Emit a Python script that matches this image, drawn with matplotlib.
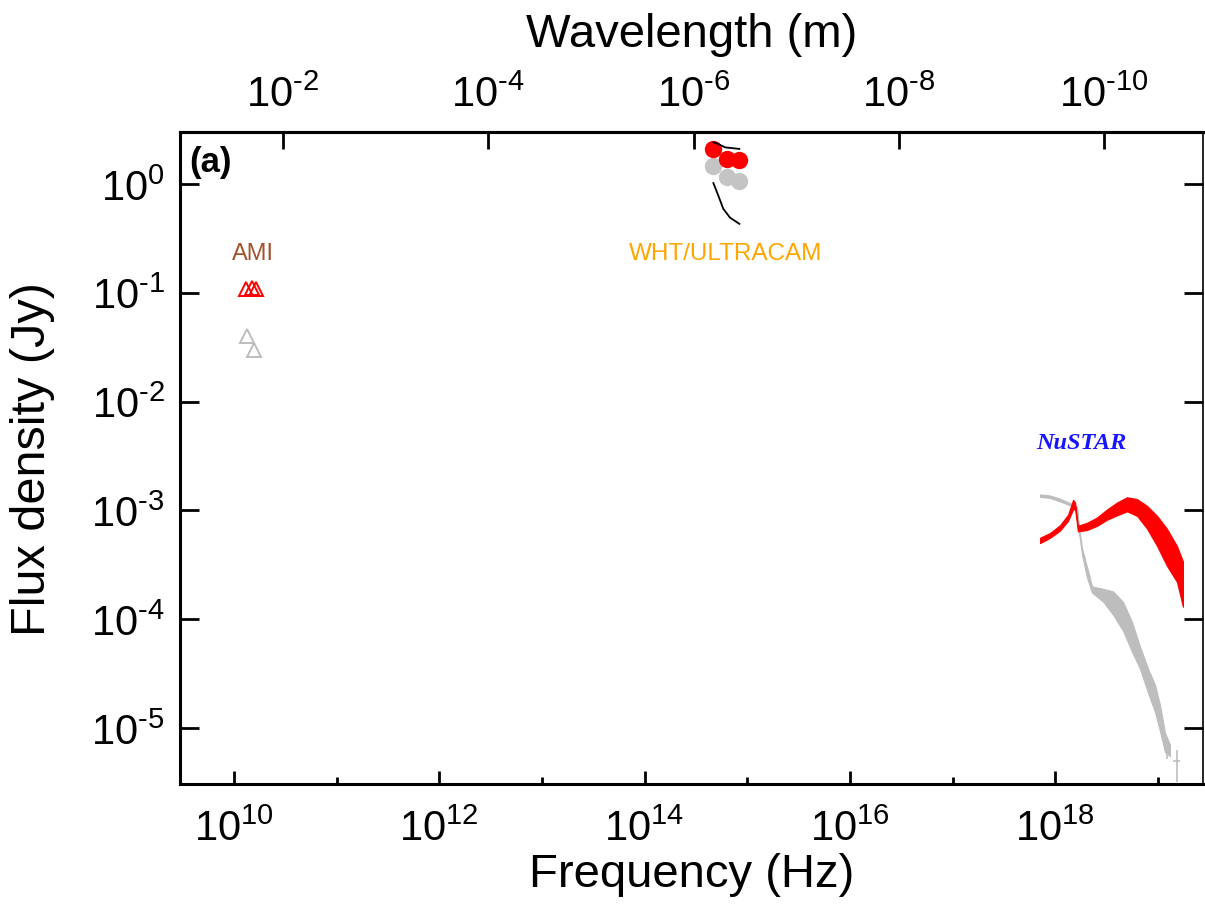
import numpy as np
import matplotlib
matplotlib.use("Agg")
import matplotlib.pyplot as plt
from matplotlib.ticker import FixedLocator, NullLocator, NullFormatter, FuncFormatter

police = 'Liberation Sans'
plt.rcParams['font.family'] = [police, 'DejaVu Sans']
plt.rcParams['mathtext.fontset'] = 'custom'
plt.rcParams['mathtext.rm'] = police
plt.rcParams['mathtext.it'] = police + ':italic'
plt.rcParams['mathtext.bf'] = police + ':bold'

C = 2.998e8

############################## DONNEES ##############################
# AMI (radio)
ami_nu_on = [1.32e10, 1.49e10, 1.65e10]
ami_f_on = [0.108, 0.110, 0.108]
ami_nu_off = [1.34e10, 1.58e10]
ami_f_off = [0.040, 0.030]

# WHT/ULTRACAM (optique)
wht_nu = [4.68e14, 6.31e14, 8.38e14]
wht_f_on = [2.10, 1.70, 1.67]
wht_f_off = [1.47, 1.15, 1.07]
modele1_nu = [4.68e14, 5.23e14, 6.08e14, 8.38e14]
modele1_f = [2.42, 2.33, 2.17, 2.10]
modele2_nu = [4.68e14, 5.23e14, 5.85e14, 6.8e14, 8.38e14]
modele2_f = [1.02, 0.78, 0.59, 0.49, 0.43]

# NuSTAR (X) : enveloppes
nu_rouge = [7.1e17, 8.9e17, 1.11e18, 1.33e18, 1.49e18, 1.56e18, 1.66e18, 2.04e18,
            2.55e18, 3.19e18, 3.99e18, 4.99e18, 6.25e18, 7.82e18, 9.8e18,
            1.22e19, 1.53e19, 1.75e19]
haut_rouge = [5.6e-4, 6.2e-4, 7.3e-4, 9.1e-4, 1.25e-3, 1.18e-3, 7.2e-4, 7.7e-4,
              8.6e-4, 1.02e-3, 1.18e-3, 1.32e-3, 1.27e-3, 1.1e-3, 8.9e-4,
              6.8e-4, 4.7e-4, 3.4e-4]
bas_rouge = [5.0e-4, 5.6e-4, 6.5e-4, 8.0e-4, 1.02e-3, 1.02e-3, 6.4e-4, 6.6e-4,
             7.2e-4, 8.2e-4, 9.0e-4, 9.8e-4, 8.9e-4, 6.8e-4, 4.7e-4,
             3.1e-4, 2.2e-4, 1.3e-4]

nu_gris = [7.1e17, 8.9e17, 1.11e18, 1.33e18, 1.49e18, 1.62e18, 1.72e18, 1.82e18,
           2.04e18, 2.28e18, 2.92e18, 3.65e18, 4.57e18, 5.59e18, 6.68e18,
           8.0e18, 9.35e18, 1.05e19, 1.17e19, 1.31e19]
haut_gris = [1.40e-3, 1.37e-3, 1.28e-3, 1.19e-3, 1.14e-3, 1.08e-3, 6.5e-4, 4.5e-4,
             3.0e-4, 2.0e-4, 1.9e-4, 1.8e-4, 1.44e-4, 9.4e-5, 5.6e-5,
             3.5e-5, 2.5e-5, 1.6e-5, 9e-6, 7e-6]
bas_gris = [1.33e-3, 1.30e-3, 1.21e-3, 1.13e-3, 1.08e-3, 1.02e-3, 5.8e-4, 3.9e-4,
            2.4e-4, 1.75e-4, 1.45e-4, 1.1e-4, 7.8e-5, 5.0e-5, 3.5e-5,
            2.1e-5, 1.4e-5, 9.2e-6, 6e-6, 5.5e-6]
# derniers points avec barres d'erreur
err_nu = [1.22e19, 1.53e19]
err_f = [6.4e-6, 5.0e-6]
err_fy = [[1.2e-6, 1.8e-6], [1.8e-6, 1.3e-6]]
err_nux = [[0.08e19, 0.13e19], [0.12e19, 0.12e19]]

############################## FIGURE ##############################
fig = plt.figure(figsize=(12.05, 9.12), dpi=100)
ax = fig.add_axes([0.1494, 0.1393, 0.8489, 0.7149])
ax.set_xscale('log')
ax.set_yscale('log')

gris = '#bdbdbd'
rouge = '#ff0000'

ax.plot(ami_nu_off, ami_f_off, '^', ms=10.5, mfc='none', mec=gris, mew=1.4)
ax.plot(ami_nu_on, ami_f_on, '^', ms=10.5, mfc='none', mec=rouge, mew=1.4)

ax.plot(wht_nu, wht_f_off, 'o', ms=12.5, color='#c4c4c4', mec='none')
ax.plot(wht_nu, wht_f_on, 'o', ms=12.5, color=rouge, mec='none')
ax.plot(modele1_nu, modele1_f, '-', color='black', lw=1.3)
ax.plot(modele2_nu, modele2_f, '-', color='black', lw=1.3)

ax.fill_between(nu_gris, bas_gris, haut_gris, color=gris, lw=0.8, ec=gris)
ax.errorbar(err_nu, err_f, yerr=np.array(err_fy).T, xerr=np.array(err_nux).T,
            fmt='none', ecolor=gris, elinewidth=1.2)
ax.fill_between(nu_rouge, bas_rouge, haut_rouge, color=rouge, lw=0.8, ec=rouge)

ax.text(1.54e10, 0.232, 'AMI', color='#a0522d', fontsize=17,
        ha='center', va='center')
ax.text(6.1e14, 0.232, 'WHT/ULTRACAM', color='#ffa500', fontsize=17.5,
        ha='center', va='center')
ax.text(1.78e18, 4.2e-3, 'NuSTAR', color='#1515ff', fontsize=17.5, family='Liberation Serif',
        style='italic', weight='bold', ha='center', va='center')
ax.text(0.009, 0.98, '(a)', transform=ax.transAxes, fontsize=25, weight='bold',
        ha='left', va='top')

ax.set_xlim(10**9.476, 10**19.438)
ax.set_ylim(10**-5.515, 10**0.478)

fmt = FuncFormatter(lambda v, p: r'$\mathregular{10^{%s}}$'
                    % str(int(round(np.log10(v)))).replace('-', r'\text{-}'))
ax.xaxis.set_major_locator(FixedLocator([1e10, 1e12, 1e14, 1e16, 1e18]))
ax.xaxis.set_minor_locator(FixedLocator([1e11, 1e13, 1e15, 1e17, 1e19]))
ax.xaxis.set_major_formatter(fmt)
ax.xaxis.set_minor_formatter(NullFormatter())
ax.yaxis.set_major_locator(FixedLocator([1e0, 1e-1, 1e-2, 1e-3, 1e-4, 1e-5]))
ax.yaxis.set_minor_locator(NullLocator())
ax.yaxis.set_major_formatter(fmt)

ax.tick_params(axis='x', which='major', direction='in', length=9.5, width=2,
               labelsize=30, pad=18, top=False)
ax.tick_params(axis='x', which='minor', direction='in', length=5, width=2, top=False)
ax.tick_params(axis='y', which='major', direction='in', length=14, width=2,
               labelsize=30, pad=11, right=True)
for s in ax.spines.values():
    s.set_linewidth(2.2)
ax.spines['right'].set_linewidth(1.2)

sec = ax.secondary_xaxis('top', functions=(lambda nu: C / nu, lambda lam: C / lam))
sec.set_xticks([1e-2, 1e-4, 1e-6, 1e-8, 1e-10])
sec.xaxis.set_minor_locator(NullLocator())
sec.xaxis.set_major_formatter(fmt)
sec.tick_params(axis='x', direction='in', length=12, width=2, labelsize=30, pad=12)
sec.spines['top'].set_linewidth(2.2)

ax.set_xlabel('Frequency (Hz)', fontsize=34, labelpad=2)
ax.set_ylabel('Flux density (Jy)', fontsize=35, labelpad=26)
sec.set_xlabel('Wavelength (m)', fontsize=34, labelpad=21)

fig.savefig('out.png', dpi=100)
